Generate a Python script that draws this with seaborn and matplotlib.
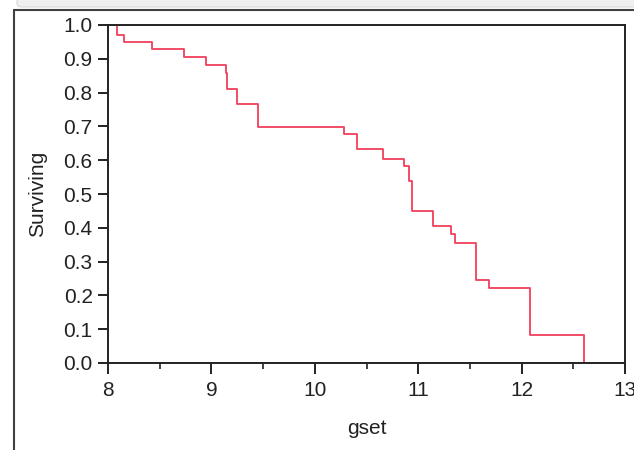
import matplotlib
matplotlib.use("Agg")
import matplotlib.pyplot as plt
import seaborn as sns
import pandas as pd
from matplotlib.lines import Line2D
from matplotlib.patches import FancyBboxPatch
from matplotlib.ticker import MultipleLocator

sns.set_theme(style="ticks")
plt.rcParams['font.family'] = ['Liberation Sans', 'DejaVu Sans']

# Kaplan-Meier style survival steps
gset = [8.0, 8.084, 8.155, 8.43, 8.735, 8.95, 9.145, 9.155, 9.25, 9.447,
        10.285, 10.41, 10.66, 10.866, 10.915, 10.94, 11.14, 11.317, 11.356,
        11.556, 11.686, 12.08, 12.605]
surviving = [1.0, 0.970, 0.949, 0.928, 0.904, 0.882, 0.857, 0.811, 0.766, 0.699,
             0.677, 0.632, 0.604, 0.583, 0.538, 0.450, 0.404, 0.382, 0.355,
             0.245, 0.222, 0.083, 0.0]

df = pd.DataFrame({"gset": gset, "Surviving": surviving})

fig = plt.figure(figsize=(6.34, 4.5), dpi=100)
fig.patch.set_facecolor("white")

# window-like frame around the plot
fig.patches.append(FancyBboxPatch((17 / 634, 1 - 7 / 450), 1.0, 0.03,
                                  boxstyle="round,pad=0,rounding_size=0.008",
                                  transform=fig.transFigure, facecolor="#f0f0f0",
                                  edgecolor="#d8d8d8", lw=0.8))
fig.lines.append(Line2D([13.5 / 634, 1], [1 - 9.5 / 450, 1 - 9.5 / 450],
                        transform=fig.transFigure, color="#404040", lw=1.5))
fig.lines.append(Line2D([13.5 / 634, 13.5 / 634], [0, 1 - 9.5 / 450],
                        transform=fig.transFigure, color="#404040", lw=1.5))

ax = fig.add_axes([108 / 634, 87 / 450, 517 / 634, 338 / 450])

sns.lineplot(data=df, x="gset", y="Surviving", drawstyle="steps-post",
             color="#f0405a", lw=1.3, ax=ax)

ax.set_xlim(8, 13)
ax.set_ylim(0, 1)
ax.xaxis.set_major_locator(MultipleLocator(1))
ax.xaxis.set_minor_locator(MultipleLocator(0.5))
ax.yaxis.set_major_locator(MultipleLocator(0.1))
ax.yaxis.set_major_formatter(matplotlib.ticker.FormatStrFormatter("%.1f"))

for s in ax.spines.values():
    s.set_visible(True)
    s.set_color("#222222")
    s.set_linewidth(1.4)

ax.tick_params(axis="both", which="major", length=8, width=1.4,
               color="#222222", labelsize=15, labelcolor="#222222", pad=5)
ax.tick_params(axis="x", which="minor", length=4.5, width=1.2, color="#222222")
ax.tick_params(axis="y", which="major", length=7, pad=4)

ax.set_xlabel("gset", fontsize=15, color="#222222", labelpad=14)
ax.set_ylabel("Surviving", fontsize=15, color="#222222", labelpad=12)

fig.savefig("out.png", dpi=100)
